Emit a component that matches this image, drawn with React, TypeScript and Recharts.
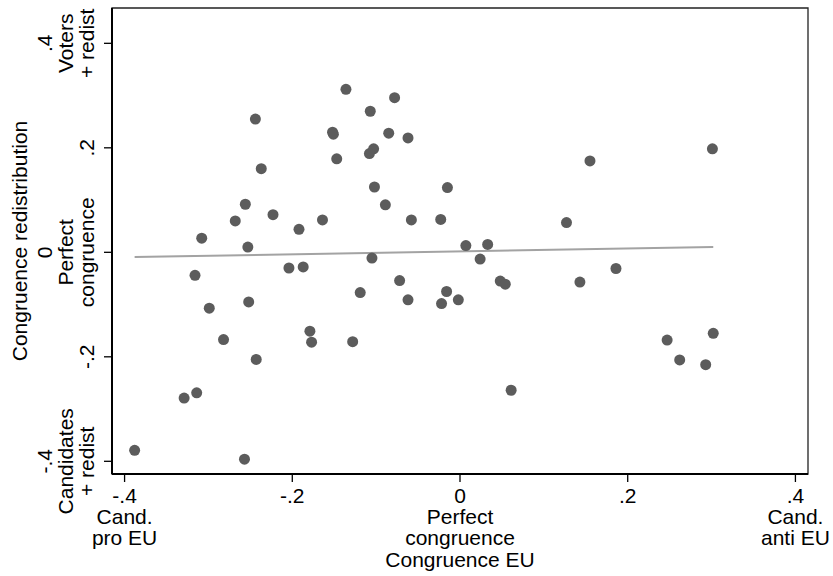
import React from "react";
import {
  ScatterChart,
  Scatter,
  XAxis,
  YAxis,
  ReferenceLine,
  ReferenceArea,
} from "recharts";

// Party-level congruence between candidates and voters
const euCongruence = [
  -0.388, -0.329, -0.314, -0.257, -0.316, -0.299, -0.282, -0.252, -0.243, -0.179,
  -0.177, -0.128, -0.119, -0.105, -0.072, -0.062, -0.016, -0.022, -0.002, 0.007,
  0.033, 0.024, 0.048, 0.054, 0.061, 0.143, 0.127, 0.155, 0.301, 0.186,
  0.247, 0.302, 0.262, 0.293, -0.136, -0.244, -0.152, -0.151, -0.147, -0.237,
  -0.256, -0.268, -0.223, -0.192, -0.164, -0.308, -0.253, -0.204, -0.187, -0.078,
  -0.107, -0.085, -0.062, -0.103, -0.108, -0.102, -0.015, -0.089, -0.058, -0.023,
];

const redistCongruence = [
  -0.379, -0.279, -0.269, -0.396, -0.044, -0.107, -0.167, -0.095, -0.205, -0.151,
  -0.172, -0.171, -0.077, -0.011, -0.054, -0.091, -0.075, -0.098, -0.091, 0.013,
  0.015, -0.013, -0.055, -0.061, -0.264, -0.057, 0.057, 0.175, 0.198, -0.031,
  -0.168, -0.155, -0.206, -0.215, 0.312, 0.255, 0.23, 0.226, 0.179, 0.16,
  0.092, 0.06, 0.072, 0.044, 0.062, 0.027, 0.01, -0.03, -0.028, 0.296,
  0.27, 0.228, 0.219, 0.198, 0.189, 0.125, 0.124, 0.091, 0.062, 0.063,
];

// Linear fit endpoints
const fitLine = [
  { x: -0.388, y: -0.009 },
  { x: 0.302, y: 0.01 },
];

const xTicks = [-0.4, -0.2, 0, 0.2, 0.4];
const xTickLabels = [
  ["-.4", "Cand.", "pro EU"],
  ["-.2"],
  ["0", "Perfect", "congruence"],
  [".2"],
  [".4", "Cand.", "anti EU"],
];

const yTicks = [-0.4, -0.2, 0, 0.2, 0.4];
const yTickLabels = [
  ["-.4", "Candidates", "+ redist"],
  ["-.2"],
  ["0", "Perfect", "congruence"],
  [".2"],
  [".4", "Voters", "+ redist"],
];

const xTitle = "Congruence EU";
const yTitle = "Congruence redistribution";

const points = euCongruence.map((x, i) => ({ x, y: redistCongruence[i] }));

const W = 833;
const H = 576;
const PLOT_LEFT = 112;
const PLOT_RIGHT = 808;
const PLOT_TOP = 8;
const PLOT_BOTTOM = 474;
const FONT = "'Liberation Sans', Arial, Helvetica, sans-serif";
const FS = 21;
const LINE = 21;
const X_DOMAIN: [number, number] = [-0.415, 0.415];
const Y_DOMAIN: [number, number] = [-0.4243, 0.4676];

const findIdx = (arr: number[], v: number) =>
  arr.findIndex((t) => Math.abs(t - v) < 1e-9);

const XTick = (props: any) => {
  const { x, payload } = props;
  const lines = xTickLabels[findIdx(xTicks, payload.value)] || [];
  return (
    <g>
      {lines.map((s, i) => (
        <text
          key={i}
          x={x}
          y={PLOT_BOTTOM + 28.5 + i * LINE}
          textAnchor="middle"
          fontFamily={FONT}
          fontSize={FS}
          fill="#000"
        >
          {s}
        </text>
      ))}
    </g>
  );
};

const YTick = (props: any) => {
  const { y, payload } = props;
  const lines = yTickLabels[findIdx(yTicks, payload.value)] || [];
  const n = lines.length;
  return (
    <g>
      {lines.map((s, i) => {
        const bx = PLOT_LEFT - 18 - (n - 1 - i) * LINE;
        return (
          <text
            key={i}
            x={bx}
            y={y}
            transform={`rotate(-90 ${bx} ${y})`}
            textAnchor="middle"
            fontFamily={FONT}
            fontSize={FS}
            fill="#000"
          >
            {s}
          </text>
        );
      })}
    </g>
  );
};

const Dot = (props: any) => {
  const { cx, cy } = props;
  return <circle cx={cx} cy={cy} r={5.5} fill="#5c5c5c" />;
};

export default function App() {
  const midY = (PLOT_TOP + PLOT_BOTTOM) / 2;
  const midX = (PLOT_LEFT + PLOT_RIGHT) / 2;
  return (
    <div
      style={{
        position: "absolute",
        left: 0,
        top: 0,
        width: W,
        height: H,
        background: "#fff",
      }}
    >
      <ScatterChart
        width={W}
        height={H}
        margin={{
          top: PLOT_TOP,
          right: W - PLOT_RIGHT,
          bottom: H - PLOT_BOTTOM - 80,
          left: PLOT_LEFT - 100,
        }}
      >
        <XAxis
          type="number"
          dataKey="x"
          domain={X_DOMAIN}
          ticks={xTicks}
          allowDataOverflow
          height={80}
          tickSize={8}
          axisLine={{ stroke: "#000", strokeWidth: 2 }}
          tickLine={{ stroke: "#000", strokeWidth: 1.3 }}
          tick={<XTick />}
        />
        <YAxis
          type="number"
          dataKey="y"
          domain={Y_DOMAIN}
          ticks={yTicks}
          allowDataOverflow
          width={100}
          tickSize={8}
          axisLine={{ stroke: "#000", strokeWidth: 2 }}
          tickLine={{ stroke: "#000", strokeWidth: 1.3 }}
          tick={<YTick />}
        />
        <ReferenceArea
          x1={X_DOMAIN[0]}
          x2={X_DOMAIN[1]}
          y1={Y_DOMAIN[0]}
          y2={Y_DOMAIN[1]}
          fill="none"
          stroke="#222"
          strokeWidth={1.3}
          ifOverflow="visible"
        />
        <Scatter
          data={points}
          shape={<Dot />}
          isAnimationActive={false}
        />
        <ReferenceLine
          segment={fitLine}
          stroke="#a3a3a3"
          strokeWidth={2}
          ifOverflow="visible"
        />
        <text
          x={midX}
          y={PLOT_BOTTOM + 92.5}
          textAnchor="middle"
          fontFamily={FONT}
          fontSize={FS}
          fill="#000"
        >
          {xTitle}
        </text>
        <text
          x={26.5}
          y={midY}
          transform={`rotate(-90 26.5 ${midY})`}
          textAnchor="middle"
          fontFamily={FONT}
          fontSize={FS}
          fill="#000"
        >
          {yTitle}
        </text>
      </ScatterChart>
    </div>
  );
}
